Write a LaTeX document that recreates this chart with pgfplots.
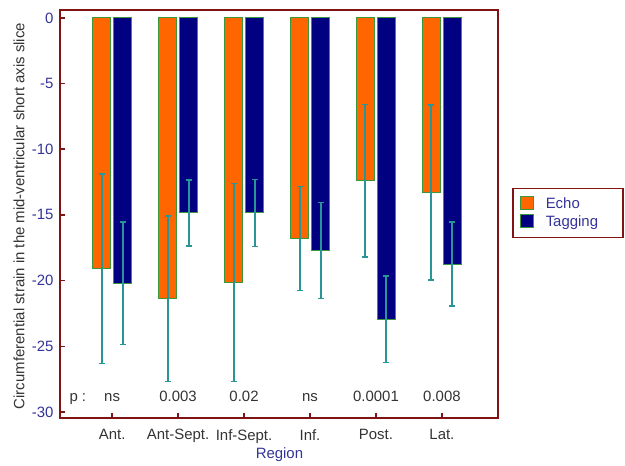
\documentclass[border=0pt]{standalone}
\usepackage{pgfplots}
\pgfplotsset{compat=1.18}
\usepackage{fontspec}
\setmainfont{Liberation Sans}
\definecolor{echoC}{RGB}{255,102,0}
\definecolor{tagC}{RGB}{0,0,128}
\definecolor{edgeC}{RGB}{60,150,60}
\definecolor{errC}{RGB}{40,150,150}
\definecolor{spineC}{RGB}{128,20,20}
\definecolor{tickC}{RGB}{51,51,153}
\definecolor{txtC}{RGB}{51,51,51}
\newcommand{\ff}{\fontsize{15}{18}\selectfont}
\begin{document}
\begin{tikzpicture}
\begin{axis}[
  scale only axis, width=438bp, height=408bp,
  ybar=3bp, bar width=18bp,
  xmin=-0.79, xmax=5.85, ymin=-30.46, ymax=0.6,
  xtick={0,...,5},
  xticklabels={Ant.,Ant-Sept.,Inf-Sept.,Inf.,Post.,Lat.},
  ytick={-30,-25,-20,-15,-10,-5,0},
  tick align=inside, xtick pos=bottom, ytick pos=left,
  major tick length=5bp,
  every tick/.style={spineC, line width=1.5bp},
  axis line style={spineC, line width=1.5bp},
  /pgf/number format/assume math mode=true,
  tick label style={font=\ff},
  yticklabel style={color=tickC, xshift=-3bp},
  xticklabel style={color=txtC, yshift=-8bp},
  xlabel={Region},
  ylabel={Circumferential strain in the mid-ventricular short axis slice},
  xlabel style={font=\ff, color=tickC, at={(axis description cs:0.501,-0.09)}, anchor=center},
  ylabel style={font=\ff, color=txtC, at={(axis description cs:-0.0936,0.495)}, anchor=center, rotate=0},
  legend style={at={(rel axis cs:1.032,0.564)}, anchor=north west, draw=spineC, line width=1.5bp,
    font=\ff, text=tickC, inner xsep=7bp, inner ysep=7bp, row sep=2bp},
  legend cell align=left,
  /tikz/every odd column/.append style={column sep=10bp},
  legend image code/.code={\draw[#1, line width=1bp] (0bp,-5.5bp) rectangle (13bp,7.5bp);},
]
\coordinate (O) at (rel axis cs:0,0);
\addplot[fill=echoC, draw=edgeC, line width=1bp,
  error bars/.cd, y dir=both, y explicit,
  error bar style={errC, line width=2bp},
  error mark options={rotate=90, errC, mark size=3bp, line width=1.5bp}]
  coordinates {
  (0,-19.1) +- (0,7.2)
  (1,-21.4) +- (0,6.3)
  (2,-20.15) +- (0,7.55)
  (3,-16.8) +- (0,3.95)
  (4,-12.4) +- (0,5.8)
  (5,-13.3) +- (0,6.65)
  };
\addplot[fill=tagC, draw=edgeC, line width=1bp,
  error bars/.cd, y dir=both, y explicit,
  error bar style={errC, line width=2bp},
  error mark options={rotate=90, errC, mark size=3bp, line width=1.5bp}]
  coordinates {
  (0,-20.2) +- (0,4.65)
  (1,-14.85) +- (0,2.5)
  (2,-14.85) +- (0,2.55)
  (3,-17.72) +- (0,3.65)
  (4,-22.95) +- (0,3.3)
  (5,-18.75) +- (0,3.2)
  };
\legend{Echo,{Tagging\hspace*{16bp}}}
\node[font=\ff, text=txtC, anchor=base] at (axis cs:-0.52,-29.17) {p :};
\node[font=\ff, text=txtC, anchor=base] at (axis cs:0,-29.17) {ns};
\node[font=\ff, text=txtC, anchor=base] at (axis cs:1,-29.17) {0.003};
\node[font=\ff, text=txtC, anchor=base] at (axis cs:2,-29.17) {0.02};
\node[font=\ff, text=txtC, anchor=base] at (axis cs:3,-29.17) {ns};
\node[font=\ff, text=txtC, anchor=base] at (axis cs:4,-29.17) {0.0001};
\node[font=\ff, text=txtC, anchor=base] at (axis cs:5,-29.17) {0.008};
\end{axis}
\pgfresetboundingbox
\path[use as bounding box] ([xshift=-60bp,yshift=-48bp]O) rectangle ([xshift=565bp,yshift=418bp]O);
\end{tikzpicture}
\end{document}
